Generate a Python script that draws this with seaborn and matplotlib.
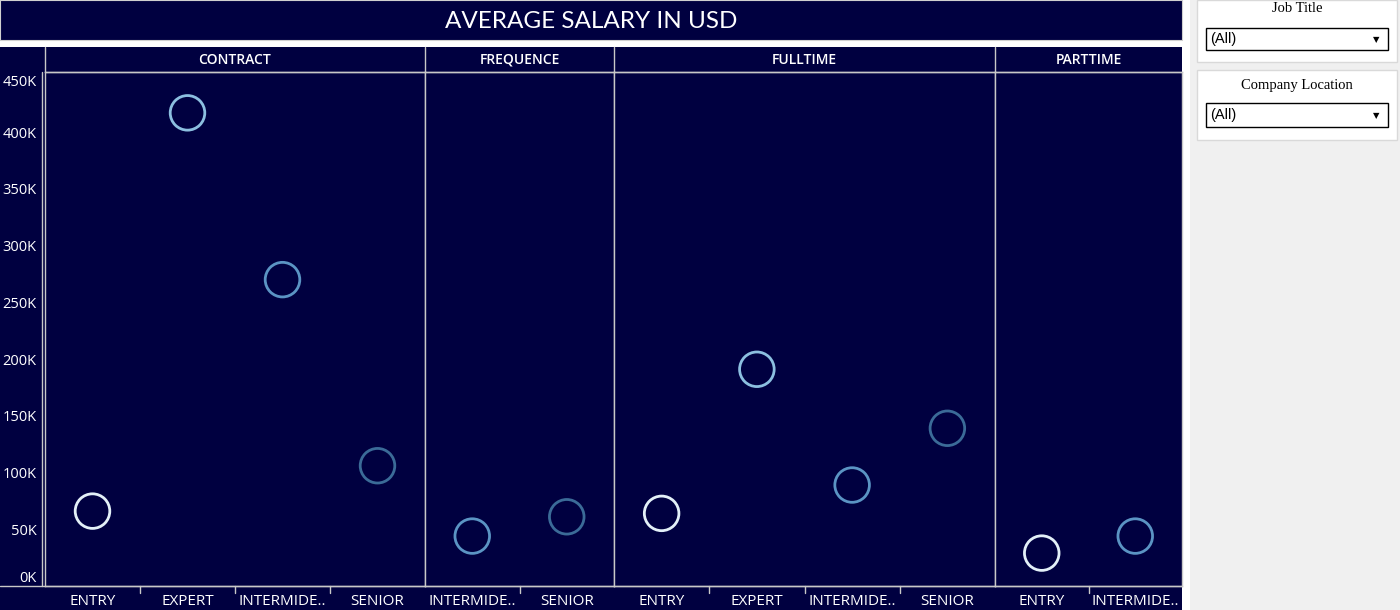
import pandas as pd
import matplotlib.pyplot as plt
import seaborn as sns
from matplotlib.patches import Rectangle
from matplotlib.ticker import FuncFormatter

# data
emp_types = ["CONTRACT", "FREQUENCE", "FULLTIME", "PARTTIME"]
emp_type = ["CONTRACT", "CONTRACT", "CONTRACT", "CONTRACT",
            "FREQUENCE", "FREQUENCE",
            "FULLTIME", "FULLTIME", "FULLTIME", "FULLTIME",
            "PARTTIME", "PARTTIME"]
exp_level = ["ENTRY", "EXPERT", "INTERMIDE..", "SENIOR",
             "INTERMIDE..", "SENIOR",
             "ENTRY", "EXPERT", "INTERMIDE..", "SENIOR",
             "ENTRY", "INTERMIDE.."]
salary = [66000, 417000, 270000, 106000,
          44000, 61000,
          64000, 191000, 89000, 139000,
          29000, 44000]
y_ticks = [0, 50000, 100000, 150000, 200000, 250000, 300000, 350000, 400000, 450000]

level_colors = {"ENTRY": "#e3f0f8", "EXPERT": "#8cbfe0",
                "INTERMIDE..": "#5b94c4", "SENIOR": "#3b6b98"}

df = pd.DataFrame({"type": emp_type, "level": exp_level, "salary": salary})

NAVY = "#000040"
GRID = "#c8c8c8"
W, H = 1400, 610

sns.set_theme(style="white")
plt.rcParams["font.family"] = ["Open Sans", "DejaVu Sans"]

fig = plt.figure(figsize=(14, 6.1), dpi=100, facecolor="white")


def fx(px):
    return px / W


def fy(py):
    return 1 - py / H


def rect(x0, y0, x1, y1, **kw):
    fig.patches.append(Rectangle((fx(x0), fy(y1)), fx(x1 - x0), (y1 - y0) / H,
                                 transform=fig.transFigure, zorder=-1, **kw))


# backgrounds
rect(0, 0, 1182, 40, facecolor=NAVY, edgecolor="#d0d0d0", linewidth=0.8)
rect(0, 47, 1182, 610, facecolor=NAVY, edgecolor="none")
rect(1190, 0, 1400, 610, facecolor="#f0f0f0", edgecolor="none")
fig.text(fx(591), fy(21), "AVERAGE SALARY IN USD", color="white", fontsize=17.5,
         ha="center", va="center", family=["Lato", "DejaVu Sans"])

# filter boxes on the right
for (y0, y1, label, dd0, dd1) in [(0, 62, "Job Title", 28, 50),
                                  (70, 140, "Company Location", 103, 127)]:
    rect(1197, y0, 1397, y1, facecolor="white", edgecolor="#d9d9d9", linewidth=1)
    fig.text(fx(1297), fy(y0 + (9 if y0 == 0 else 16)), label, ha="center", va="center",
             fontsize=10.5, color="black", family=["Liberation Serif", "DejaVu Serif"])
    rect(1206, dd0, 1388, dd1, facecolor="white", edgecolor="black", linewidth=1)
    fig.text(fx(1210), fy((dd0 + dd1) / 2), "(All)", ha="left", va="center",
             fontsize=10.5, color="black", family=["Liberation Sans", "DejaVu Sans"])
    fig.text(fx(1376), fy((dd0 + dd1) / 2 + 1), "\u25BC", ha="center", va="center",
             fontsize=6, color="black", family=["DejaVu Sans"])

# panels
panel_x = [45, 425, 614, 995, 1182]
top, bottom = 72, 586
axes = []
for i, t in enumerate(emp_types):
    sub = df[df["type"] == t]
    ax = fig.add_axes([fx(panel_x[i]), fy(bottom), fx(panel_x[i + 1] - panel_x[i]),
                       (bottom - top) / H])
    ax.set_facecolor(NAVY)
    sns.scatterplot(data=sub, x="level", y="salary", hue="level", palette=level_colors,
                    s=620, linewidth=0, legend=False, ax=ax)
    coll = ax.collections[0]
    coll.set_edgecolors(coll.get_facecolors())
    coll.set_facecolors("none")
    coll.set_linewidths(2.0)
    n = len(sub)
    ax.set_xlim(-0.5, n - 0.5)
    ax.set_ylim(0, 453000)
    ax.set_xlabel("")
    ax.set_ylabel("")
    for s in ax.spines.values():
        s.set_color(GRID)
        s.set_linewidth(1)
    ax.tick_params(axis="x", colors="white", labelsize=11, length=0, pad=6)
    ax.set_xticks(range(n))
    ax.set_xticklabels(list(sub["level"]), color="white")
    # small separators between categories on the bottom line
    for k in range(1, n):
        ax.plot([k - 0.5, k - 0.5], [0, -6000], color=GRID, lw=1, clip_on=False)
    if i == 0:
        ax.set_yticks(y_ticks)
        ax.yaxis.set_major_formatter(FuncFormatter(lambda v, p: f"{int(v / 1000)}K"))
        ax.tick_params(axis="y", colors=GRID, labelcolor="white", labelsize=10.5,
                       length=4, width=1, pad=2, direction="out")
        labels = ax.get_yticklabels()
        labels[0].set_verticalalignment("bottom")
        labels[-1].set_verticalalignment("top")
    else:
        ax.set_yticks([])
    # header label
    fig.text(fx((panel_x[i] + panel_x[i + 1]) / 2), fy(59.5), t, color="white",
             fontsize=10, ha="center", va="center", fontweight="semibold")
    # vertical separator through header
    fig.lines.append(plt.Line2D([fx(panel_x[i]), fx(panel_x[i])], [fy(47), fy(72)],
                                transform=fig.transFigure, color=GRID, lw=1))
    axes.append(ax)

fig.lines.append(plt.Line2D([fx(45), fx(1182)], [fy(72), fy(72)],
                            transform=fig.transFigure, color=GRID, lw=1))
fig.lines.append(plt.Line2D([fx(0), fx(1182)], [fy(586), fy(586)],
                            transform=fig.transFigure, color=GRID, lw=1))
fig.lines.append(plt.Line2D([fx(42), fx(42)], [fy(72), fy(586)],
                            transform=fig.transFigure, color=GRID, lw=1))

fig.savefig("out.png", dpi=100, facecolor=fig.get_facecolor())
